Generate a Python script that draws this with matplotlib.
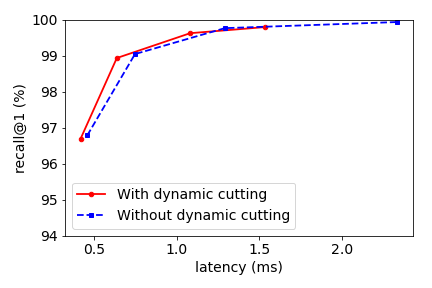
import matplotlib
matplotlib.use("Agg")
import matplotlib.pyplot as plt

# latency (ms) and recall@1 (%)
with_latency = [0.419, 0.638, 1.082, 1.535]
with_recall = [96.70, 98.94, 99.63, 99.80]

without_latency = [0.459, 0.748, 1.292, 2.335]
without_recall = [96.79, 99.05, 99.77, 99.94]

plt.rcParams["font.size"] = 14

fig = plt.figure(figsize=(6, 4), dpi=72)
ax = fig.add_axes([0.150, 0.181, 0.806, 0.750])
ax.plot(with_latency, with_recall, "r-o", markersize=4.5, linewidth=1.8,
        label="With dynamic cutting")
ax.plot(without_latency, without_recall, "b--s", markersize=4.5, linewidth=1.8,
        label="Without dynamic cutting")
ax.set_ylim(94, 100)
ax.set_xticks([0.5, 1.0, 1.5, 2.0])
ax.set_xlabel("latency (ms)")
ax.set_ylabel("recall@1 (%)")
ax.legend(loc="lower left")

fig.savefig("out.png", dpi=72)
